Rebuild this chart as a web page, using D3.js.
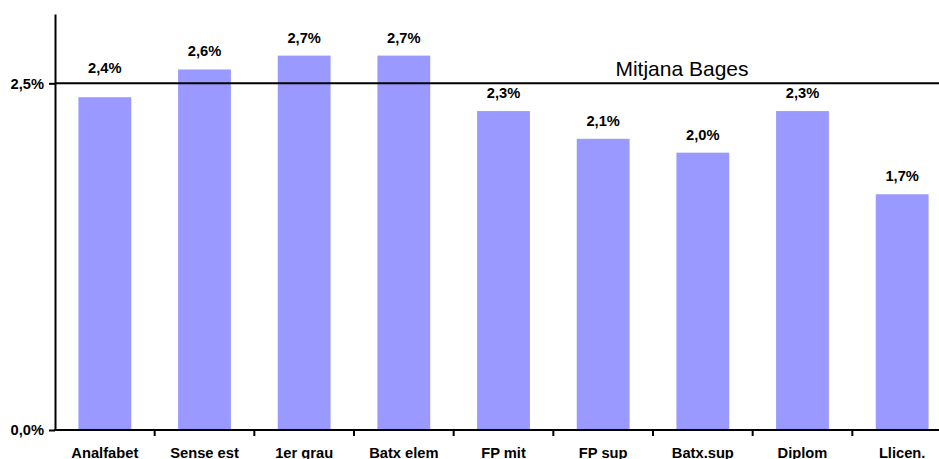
<!DOCTYPE html>
<html>
<head>
<meta charset="utf-8">
<script src="https://cdn.jsdelivr.net/npm/d3@7"></script>
<style>
  body { margin: 0; background: #fff; }
  svg { display: block; font-family: "Liberation Sans", Arial, sans-serif; }
</style>
</head>
<body>
<script>
var categories = ["Analfabet", "Sense est", "1er grau", "Batx elem", "FP mit", "FP sup", "Batx.sup", "Diplom", "Llicen."]
var values = [2.4, 2.6, 2.7, 2.7, 2.3, 2.1, 2.0, 2.3, 1.7]
var yTicks = [0, 2.5]
var mean = 2.5
var meanLabel = "Mitjana Bages"

var width = 939, height = 459

var fmt = function(v) { return v.toFixed(1).replace(".", ",") + "%" }

var svg = d3.select("body").append("svg")
    .attr("width", width)
    .attr("height", height)

var x = d3.scaleBand()
    .domain(categories)
    .range([55, 952])
    .paddingInner(0.47)
    .paddingOuter(0.235)

var y = d3.scaleLinear()
    .domain([0, 3])
    .range([430, 14])

var step = x.step()
var gap = (step - x.bandwidth()) / 2

// bars
svg.selectAll(".bar")
  .data(values)
  .enter()
  .append("rect")
    .attr("class", "bar")
    .attr("x", function(d, i) { return x(categories[i]) })
    .attr("y", function(d) { return y(d) })
    .attr("width", x.bandwidth())
    .attr("height", function(d) { return y(0) - y(d) })
    .style("fill", "#9999ff")

// mean line
svg.append("line")
    .attr("x1", 55).attr("x2", width)
    .attr("y1", y(mean)).attr("y2", y(mean))
    .style("stroke", "#000").style("stroke-width", 2)

svg.append("text")
    .attr("x", 682)
    .attr("y", y(mean) - 7)
    .attr("text-anchor", "middle")
    .style("font-size", "21px")
    .text(meanLabel)

// value labels (pushed above the mean line when they would cross it)
svg.selectAll(".val")
  .data(values)
  .enter()
  .append("text")
    .attr("class", "val")
    .attr("x", function(d, i) { return x(categories[i]) + x.bandwidth() / 2 })
    .attr("y", function(d) {
        var b = y(d) - 13
        if (b > y(mean) - 2 && b - 11 < y(mean) + 2) b = y(mean) - 10
        return b
    })
    .attr("text-anchor", "middle")
    .style("font-size", "14.7px")
    .style("font-weight", "bold")
    .text(fmt)

// y axis
var yAxis = svg.append("g")
    .attr("transform", "translate(55,0)")
    .call(d3.axisLeft(y).tickValues(yTicks).tickFormat(fmt).tickSize(6).tickSizeOuter(0).tickPadding(5))
yAxis.select(".domain").style("stroke-width", 2)
yAxis.selectAll(".tick line").style("stroke-width", 2)
yAxis.selectAll("text")
    .style("font-size", "14.7px")
    .style("font-weight", "bold")
    .style("font-family", "Liberation Sans, Arial, sans-serif")
    .attr("fill", "#000")

// x axis
svg.append("line")
    .attr("x1", 54).attr("x2", width)
    .attr("y1", y(0)).attr("y2", y(0))
    .style("stroke", "#000").style("stroke-width", 2)

svg.selectAll(".xtick")
  .data(categories.slice(1))
  .enter()
  .append("line")
    .attr("class", "xtick")
    .attr("x1", function(d) { return x(d) - gap })
    .attr("x2", function(d) { return x(d) - gap })
    .attr("y1", y(0)).attr("y2", y(0) + 6)
    .style("stroke", "#000").style("stroke-width", 2)

svg.selectAll(".cat")
  .data(categories)
  .enter()
  .append("text")
    .attr("class", "cat")
    .attr("x", function(d) { return x(d) + x.bandwidth() / 2 })
    .attr("y", 458)
    .attr("text-anchor", "middle")
    .style("font-size", "14.7px")
    .style("font-weight", "bold")
    .text(function(d) { return d })
</script>
</body>
</html>
